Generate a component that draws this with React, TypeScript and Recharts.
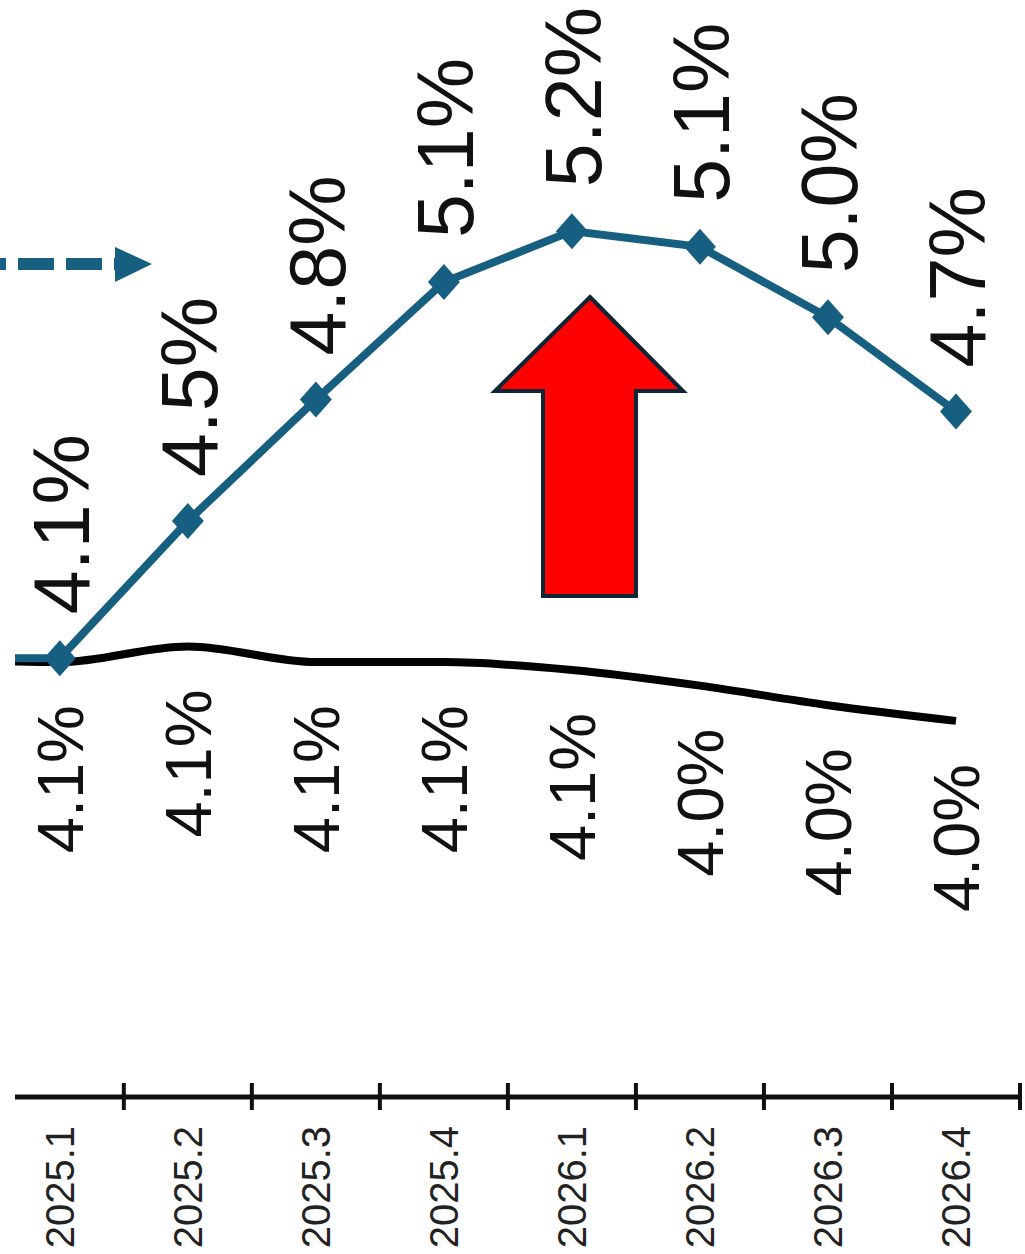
import React from "react";
import { LineChart, Line, XAxis, YAxis } from "recharts";

const FONT = "'Liberation Sans', Arial, sans-serif";
const BLUE = "#175f80";

const categories = ["2025.1", "2025.2", "2025.3", "2025.4", "2026.1", "2026.2", "2026.3", "2026.4"];
const blueValues = [4.12, 4.47, 4.78, 5.08, 5.21, 5.17, 4.99, 4.75];
const blackValues = [4.11, 4.15, 4.11, 4.11, 4.09, 4.05, 4.0, 3.96];
const blueLabels = ["4.1%", "4.5%", "4.8%", "5.1%", "5.2%", "5.1%", "5.0%", "4.7%"];
const blackLabels = ["4.1%", "4.1%", "4.1%", "4.1%", "4.1%", "4.0%", "4.0%", "4.0%"];
// previous quarter, only visible as the line entering from the left edge
const priorBlue = 4.12;
const priorBlack = 4.12;

const boundaryTicks = [0.5, 1.5, 2.5, 3.5, 4.5, 5.5, 6.5, 7.5];
const labelTicks = categories.map((_, i) => i);

const data = [
  { pos: -1, blue: priorBlue, black: priorBlack },
  ...categories.map((c, i) => ({ pos: i, name: c, blue: blueValues[i], black: blackValues[i] })),
];

const Diamond = (props: any) => {
  const { cx, cy, index } = props;
  if (index === 0 || cx == null) return <g key={`d-${index}`} />;
  return (
    <path
      key={`d-${index}`}
      d={`M${cx},${cy - 18} L${cx + 16},${cy} L${cx},${cy + 18} L${cx - 16},${cy} Z`}
      fill={BLUE}
    />
  );
};

const BlueLabel = (props: any) => {
  const { x, y, index } = props;
  if (index === 0) return null;
  const ax = x;
  const ay = y - 44;
  return (
    <text
      x={ax}
      y={ay}
      dy={29}
      transform={`rotate(-90, ${ax}, ${ay})`}
      textAnchor="start"
      fontSize={79}
      fontFamily={FONT}
      fill="#111"
    >
      {blueLabels[index - 1]}
    </text>
  );
};

const BlackLabel = (props: any) => {
  const { x, y, index } = props;
  if (index === 0) return null;
  const ax = x;
  const ay = y + 43;
  return (
    <text
      x={ax}
      y={ay}
      dy={23}
      transform={`rotate(-90, ${ax}, ${ay})`}
      textAnchor="end"
      fontSize={65}
      fontFamily={FONT}
      fill="#111"
    >
      {blackLabels[index - 1]}
    </text>
  );
};

const BoundaryTick = (props: any) => {
  const { x, y } = props;
  return <line x1={x} x2={x} y1={y - 14} y2={y + 13} stroke="#111" strokeWidth={4} />;
};

const CategoryTick = (props: any) => {
  const { x, y, payload } = props;
  const ay = y + 28;
  return (
    <text
      x={x}
      y={ay}
      dy={14}
      transform={`rotate(-90, ${x}, ${ay})`}
      textAnchor="end"
      fontSize={40}
      fontFamily={FONT}
      fill="#222"
    >
      {categories[payload.value]}
    </text>
  );
};

export default function App() {
  return (
    <div style={{ position: "absolute", left: 0, top: 0, width: 1025, height: 1254, background: "#fff" }}>
      <LineChart width={1025} height={1254} data={data} margin={{ top: 0, right: 5, bottom: 0, left: 15 }}>
        <YAxis type="number" domain={[3, 5.8]} allowDataOverflow hide />
        <XAxis
          xAxisId="grid"
          dataKey="pos"
          type="number"
          domain={[-0.35, 7.5]}
          allowDataOverflow
          ticks={boundaryTicks}
          height={1}
          tickSize={0}
          tickMargin={0}
          tickLine={false}
          axisLine={{ stroke: "#111", strokeWidth: 5 }}
          tick={<BoundaryTick />}
          interval={0}
        />
        <XAxis
          xAxisId="lbl"
          dataKey="pos"
          type="number"
          domain={[-0.35, 7.5]}
          allowDataOverflow
          ticks={labelTicks}
          height={156}
          tickSize={0}
          tickMargin={0}
          tickLine={false}
          axisLine={false}
          tick={<CategoryTick />}
          interval={0}
        />
        <Line
          xAxisId="grid"
          type="monotone"
          dataKey="black"
          stroke="#000"
          strokeWidth={8}
          dot={false}
          label={<BlackLabel />}
          isAnimationActive={false}
        />
        <Line
          xAxisId="grid"
          type="linear"
          dataKey="blue"
          stroke={BLUE}
          strokeWidth={8}
          dot={Diamond}
          activeDot={false}
          label={<BlueLabel />}
          isAnimationActive={false}
        />
      </LineChart>
      <svg
        width={1025}
        height={1254}
        style={{ position: "absolute", left: 0, top: 0, pointerEvents: "none" }}
      >
        <line x1={-30} y1={264} x2={118} y2={264} stroke={BLUE} strokeWidth={12} strokeDasharray="36 12" />
        <polygon points="115,247 152,264 115,282" fill={BLUE} />
        <polygon
          points="590,297 683,391 636,391 636,596 543,596 543,391 495,391"
          fill="#ff0000"
          stroke="#0d2535"
          strokeWidth={4}
          strokeLinejoin="miter"
        />
      </svg>
    </div>
  );
}
